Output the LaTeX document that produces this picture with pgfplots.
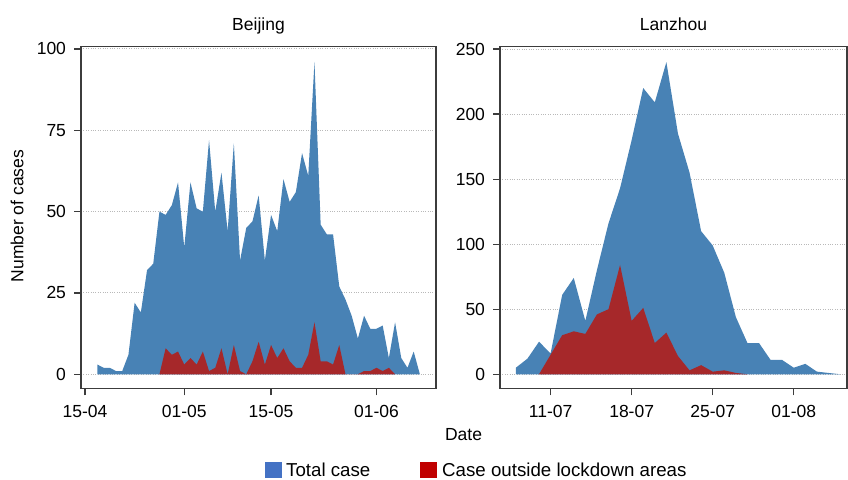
\documentclass[border=0pt]{standalone}
\usepackage{fontspec}
\setmainfont{Liberation Sans}
\usepackage{pgfplots}
\pgfplotsset{compat=1.18}

\definecolor{areablue}{RGB}{72,130,181}
\definecolor{areared}{RGB}{166,40,42}
\definecolor{keyblue}{RGB}{68,114,196}
\definecolor{keyred}{RGB}{192,0,0}
\definecolor{framegray}{RGB}{60,60,60}

\newcommand\chartfont{\fontsize{17.5bp}{21bp}\selectfont}
\newcommand\keyfont{\fontsize{18.7bp}{22bp}\selectfont}

\pgfplotsset{
  panel/.style={
    scale only axis,
    height=341.6bp,
    axis line style={framegray, line width=1.2bp},
    tick style={framegray, line width=1.2bp},
    tick align=outside,
    major tick length=7bp,
    xtick pos=lower, ytick pos=left,
    ymajorgrids,
    grid style={gray!55, dotted, line width=1bp},
    ticklabel style={font=\chartfont},
    xticklabel style={yshift=-6.5bp},
    yticklabel style={xshift=-4.5bp},
    /pgf/number format/assume math mode=true,
  },
  total/.style={fill=areablue, draw=none},
  outside/.style={fill=areared, draw=none},
}

\begin{document}
\begin{tikzpicture}

% Beijing: day 0 = 15 April
\begin{axis}[panel,
  at={(81bp,91.7bp)}, anchor=south west,
  width=355bp,
  xmin=-0.65, xmax=56.6, ymin=-4.3, ymax=100.7,
  ytick={0,25,50,75,100},
  xtick={0,16,30,47}, xticklabels={15-04,01-05,15-05,01-06},
]
\addplot[total] coordinates {
 (2,3) (3,2) (4,2) (5,1) (6,1) (7,6) (8,22) (9,19) (10,32) (11,34)
 (12,50) (13,49) (14,52) (15,59) (16,39) (17,59) (18,51) (19,50) (20,72) (21,50)
 (22,62) (23,44) (24,71) (25,35) (26,45) (27,47) (28,55) (29,35) (30,49) (31,44)
 (32,60) (33,53) (34,56) (35,68) (36,61) (37,96) (38,46) (39,43) (40,43) (41,27)
 (42,23) (43,18) (44,11) (45,18) (46,14) (47,14) (48,15) (49,5) (50,16) (51,5)
 (52,2) (53,7) (54,0)
} \closedcycle;
\addplot[outside] coordinates {
 (12,0) (13,8) (14,6) (15,7) (16,3) (17,5) (18,3) (19,7) (20,1) (21,2)
 (22,8) (23,0) (24,9) (25,1) (26,0) (27,4) (28,10) (29,3) (30,9) (31,5)
 (32,8) (33,4) (34,2) (35,2) (36,6) (37,16) (38,4) (39,4) (40,3) (41,9)
 (42,0) (43,0) (44,0) (45,1) (46,1) (47,2) (48,1) (49,2) (50,0)
} \closedcycle;
\end{axis}

% Lanzhou: day 0 = 11 July
\begin{axis}[panel,
  at={(500bp,91.7bp)}, anchor=south west,
  width=347bp,
  xmin=-4.37, xmax=25.6, ymin=-10.8, ymax=251.8,
  ytick={0,50,100,150,200,250},
  xtick={0,7,14,21}, xticklabels={11-07,18-07,25-07,01-08},
]
\addplot[total] coordinates {
 (-3,5) (-2,12) (-1,25) (0,16) (1,61) (2,74) (3,41) (4,80) (5,116) (6,143)
 (7,180) (8,220) (9,209) (10,240) (11,185) (12,155) (13,110) (14,99) (15,78) (16,44)
 (17,24) (18,24) (19,11) (20,11) (21,5) (22,8) (23,2) (24,1) (25,0)
} \closedcycle;
\addplot[outside] coordinates {
 (-1,0) (0,15) (1,30) (2,33) (3,31) (4,46) (5,50) (6,84) (7,41) (8,51)
 (9,24) (10,32) (11,14) (12,3) (13,7) (14,2) (15,3) (16,1) (17,0)
} \closedcycle;
\end{axis}

% panel titles and shared axis labels
\node[font=\chartfont, anchor=base] at (258.5bp,449bp) {Beijing};
\node[font=\chartfont, anchor=base] at (673.5bp,449bp) {Lanzhou};
\node[font=\chartfont, anchor=base] at (463.5bp,39.5bp) {Date};
\node[font=\chartfont, anchor=base, rotate=90] at (23.3bp,264bp) {Number of cases};

% shared key below the panels
\fill[keyblue] (265bp,1.7bp) rectangle (281.7bp,18.3bp);
\node[font=\keyfont, anchor=base west, inner sep=0pt] at (286bp,3.6bp) {Total case};
\fill[keyred] (420bp,1.7bp) rectangle (436.7bp,18.3bp);
\node[font=\keyfont, anchor=base west, inner sep=0pt] at (442bp,3.6bp) {Case outside lockdown areas};

\pgfresetboundingbox
\useasboundingbox (0,0) rectangle (848bp,480bp);
\end{tikzpicture}
\end{document}
